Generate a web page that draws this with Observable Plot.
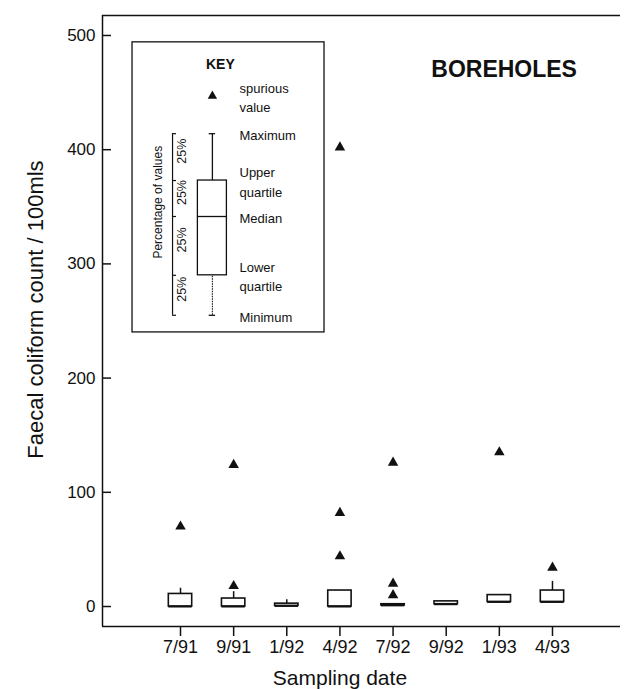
<!DOCTYPE html>
<html>
<head>
<meta charset="utf-8">
<script src="https://cdn.jsdelivr.net/npm/d3@7"></script>
<script src="https://cdn.jsdelivr.net/npm/@observablehq/plot@0.6"></script>
<style>
  body { margin: 0; background: #fff; }
  #chart svg { display: block; }
</style>
</head>
<body>
<div id="chart"></div>
<script>
// Faecal coliform counts (per 100 ml) from borehole samples, by sampling date
const dates = ["7/91", "9/91", "1/92", "4/92", "7/92", "9/92", "1/93", "4/93"];
const lowerQuartile = [0, 0, 0.5, 0, 1, 2, 4, 4];
const medians       = [0, 0, 0.5, 0, 1, 2, 4, 4];
const upperQuartile = [11, 7, 2.5, 14, 2, 4.5, 10, 14];
const maxima        = [16, 13, 6, 14, 2, 4.5, 10, 22];

// Spurious (outlying) values
const spuriousDates  = ["7/91", "9/91", "9/91", "4/92", "4/92", "4/92", "7/92", "7/92", "7/92", "1/93", "4/93"];
const spuriousValues = [70, 18, 124, 44, 82, 402, 10, 20, 126, 135, 34];

const yTicks = [0, 100, 200, 300, 400, 500];

// Illustrative box for the key
const keyLabels = ["spurious\nvalue", "Maximum", "Upper\nquartile", "Median", "Lower\nquartile", "Minimum"];
const keyValues = [447, 414, 373, 341.5, 290, 255];
const shareLabels = ["25%", "25%", "25%", "25%"];

// ---- layout (in scale units) ----
const W = 624, H = 689, mL = 102, mR = 4, mT = 15, mB = 63;
const xLo = -1.468, xHi = 8.28;
const yLo = -17.5, yHi = 517.5;
const pxX = (W - mL - mR) / (xHi - xLo);   // pixels per x unit
const halfBox = 0.22;
const key = {x1: -0.903, x2: 2.71, y1: 240, y2: 494, boxX: 0.6, half: 0.273,
             labelX: 1.11, bracketX: -0.15, shareX: 0.02, percentX: -0.43};

const boxes = dates.map((d, i) => ({
  i, date: d, q1: lowerQuartile[i], median: medians[i], q3: upperQuartile[i], max: maxima[i]
}));
const spurious = spuriousDates.map((d, k) => ({i: dates.indexOf(d), value: spuriousValues[k]}));

const [kSpur, kMax, kQ3, kMed, kQ1, kMin] = keyValues;
const keyStats = [kMax, kQ3, kMed, kQ1, kMin];
const shareMid = shareLabels.map((t, k) => ({t, y: (keyStats[k] + keyStats[k + 1]) / 2}));

const font = "'Liberation Sans', Arial, Helvetica, sans-serif";
const ink = "#111";

const chart = Plot.plot({
  width: W,
  height: H,
  marginLeft: mL,
  marginRight: mR,
  marginTop: mT,
  marginBottom: mB,
  style: {fontFamily: font, color: ink, background: "#fff"},
  x: {type: "linear", domain: [xLo, xHi]},
  y: {domain: [yLo, yHi]},
  marks: [
    // frame: left axis plus top and bottom lines
    Plot.ruleX([xLo], {y1: yLo, y2: yHi, stroke: ink, strokeWidth: 1.5}),
    Plot.ruleY([yLo, yHi], {x1: xLo, x2: xHi, stroke: ink, strokeWidth: 1.5}),
    // inward y ticks
    Plot.ruleY(yTicks, {x1: xLo, x2: xLo + 9 / pxX, stroke: ink, strokeWidth: 1.5}),
    Plot.axisY(yTicks, {tickSize: 0, tickPadding: 7, fontSize: 17, label: null}),
    Plot.axisX(d3.range(dates.length), {tickSize: 10, tickPadding: 4, tickFormat: i => dates[i],
      fontSize: 18, label: null, strokeWidth: 1.5}),
    // axis titles
    Plot.text(["Faecal coliform count / 100mls"], {frameAnchor: "left", dx: -67, y: [260],
      rotate: -90, textAnchor: "middle", fontSize: 22, fill: ink}),
    Plot.text(["Sampling date"], {x: [3], frameAnchor: "bottom", dy: 52, lineAnchor: "middle",
      fontSize: 21, fill: ink}),

    // box plots
    Plot.ruleX(boxes.filter(d => d.max > d.q3), {x: "i", y1: "q3", y2: "max", stroke: ink, strokeWidth: 1.5}),
    Plot.rect(boxes, {x1: d => d.i - halfBox, x2: d => d.i + halfBox, y1: "q1", y2: "q3",
      fill: "white", stroke: ink, strokeWidth: 1.6}),
    Plot.ruleY(boxes, {x1: d => d.i - halfBox, x2: d => d.i + halfBox, y: "median", stroke: ink, strokeWidth: 2}),
    Plot.dot(spurious, {x: "i", y: "value", symbol: "triangle", r: 3.9, fill: ink, stroke: null}),

    Plot.text(["BOREHOLES"], {x: [6.09], y: [470], fontSize: 23, fontWeight: "bold", fill: ink,
      textAnchor: "middle", style: "letter-spacing:1.5px"}),

    // key
    Plot.rect([0], {x1: key.x1, x2: key.x2, y1: key.y1, y2: key.y2, fill: "white", stroke: ink, strokeWidth: 1.3}),
    Plot.text(["KEY"], {x: [0.75], y: [475], fontSize: 14, fontWeight: "bold", fill: ink}),
    Plot.dot([kSpur], {x: key.boxX, y: d => d, symbol: "triangle", r: 3.5, fill: ink, stroke: null}),
    Plot.ruleX([key.boxX], {y1: kQ3, y2: kMax, stroke: ink, strokeWidth: 1.3}),
    Plot.ruleX([key.boxX], {y1: kMin, y2: kQ1, stroke: ink, strokeWidth: 1.1, strokeDasharray: "1.5,1"}),
    Plot.ruleY([kMax, kMin], {x1: key.boxX - 0.06, x2: key.boxX + 0.06, stroke: ink, strokeWidth: 1.3}),
    Plot.rect([0], {x1: key.boxX - key.half, x2: key.boxX + key.half, y1: kQ1, y2: kQ3,
      fill: "white", stroke: ink, strokeWidth: 1.3}),
    Plot.ruleY([kMed], {x1: key.boxX - key.half, x2: key.boxX + key.half, stroke: ink, strokeWidth: 1.3}),
    Plot.text(keyLabels, {x: key.labelX, y: (d, k) => keyValues[k], textAnchor: "start",
      lineAnchor: "middle", lineHeight: 1.5, fontSize: 13, fill: ink}),
    // percentage bracket
    Plot.ruleX([key.bracketX], {y1: kMin, y2: kMax, stroke: ink, strokeWidth: 1.2}),
    Plot.ruleY(keyStats, {x1: key.bracketX, x2: key.bracketX + 4 / pxX, stroke: ink, strokeWidth: 1.2}),
    Plot.text(shareMid, {x: key.shareX, y: "y", text: "t", rotate: -90, dy: -6, fontSize: 12.5, fill: ink}),
    Plot.text(["Percentage of values"], {x: [key.percentX], y: [354], rotate: -90, fontSize: 12, fill: ink})
  ]
});

document.getElementById("chart").appendChild(chart);
</script>
</body>
</html>
